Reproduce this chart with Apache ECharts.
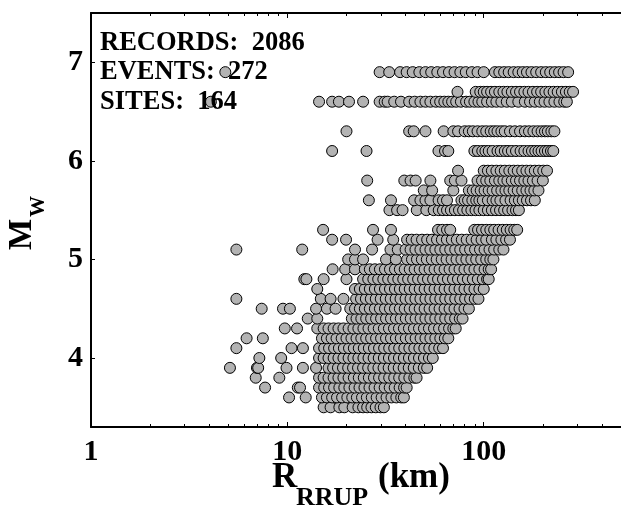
<!DOCTYPE html>
<html>
<head>
<meta charset="utf-8">
<script src="https://cdn.jsdelivr.net/npm/echarts@6/dist/echarts.min.js"></script>
<style>
  html, body { margin: 0; padding: 0; background: #fff; }
  #chart { width: 621px; height: 510px; }
</style>
</head>
<body>
<div id="chart"></div>
<script>
// Moment magnitude of each row of records
const magnitudes = [3.5, 3.6, 3.7, 3.8, 3.9, 4.0, 4.1, 4.2, 4.3, 4.4, 4.5, 4.6, 4.7, 4.8, 4.9,
                    5.0, 5.1, 5.2, 5.3, 5.5, 5.6, 5.7, 5.8, 5.9, 6.1, 6.3, 6.6, 6.7, 6.9];

// Rupture distances (km) of the records at each magnitude
const r35 = [15.3, 16.6, 18.4, 19.5, 21.5, 23.0, 24.3, 25.5, 26.8, 28.2, 29.8, 31.0];
const r36 = [10.2, 12.4, 15.0, 15.9, 16.9, 17.9, 19.0, 20.2, 21.4, 22.6, 24.0, 25.4, 26.9, 28.5, 30.2, 32.0, 33.9, 35.9, 38.0, 39.2];
const r37 = [7.7, 11.3, 11.6, 14.5, 15.4, 16.3, 17.3, 18.4, 19.5, 20.7, 22.0, 23.3, 24.7, 26.2, 27.8, 29.5, 31.3, 33.2, 35.2, 37.3, 39.3, 40.5];
const r38 = [6.9, 9.1, 14.5, 15.3, 16.2, 17.2, 18.2, 19.3, 20.5, 21.8, 23.1, 24.5, 26.0, 27.6, 29.3, 31.1, 33.0, 35.0, 37.1, 39.4, 41.8, 44.3, 45.5];
const r39 = [5.1, 7.0, 7.1, 9.9, 12.0, 14.0, 16.2, 17.1, 18.1, 19.2, 20.4, 21.6, 22.9, 24.3, 25.8, 27.4, 29.1, 30.9, 32.8, 34.8, 36.9, 39.1, 41.5, 44.0, 46.7, 49.5, 51.5];
const r40 = [7.2, 9.3, 14.5, 15.3, 16.2, 17.2, 18.2, 19.3, 20.5, 21.7, 23.0, 24.4, 25.9, 27.5, 29.2, 31.0, 32.9, 34.9, 37.0, 39.2, 41.6, 44.1, 46.8, 49.6, 52.6, 55.0];
const r41 = [5.5, 10.5, 12.0, 14.5, 15.4, 16.3, 17.3, 18.3, 19.4, 20.6, 21.8, 23.1, 24.5, 26.0, 27.6, 29.3, 31.1, 33.0, 35.0, 37.1, 39.4, 41.8, 44.3, 47.0, 49.8, 52.8, 56.0, 59.3, 62.0];
const r42 = [6.2, 7.5, 15.0, 15.9, 16.8, 17.8, 18.9, 20.0, 21.2, 22.5, 23.8, 25.2, 26.7, 28.3, 30.0, 31.8, 33.7, 35.7, 37.8, 40.1, 42.5, 45.0, 47.7, 50.5, 53.5, 56.7, 60.1, 63.4, 66.0];
const r43 = [9.7, 11.2, 14.2, 15.3, 16.2, 17.2, 18.2, 19.3, 20.5, 21.7, 23.0, 24.4, 25.9, 27.5, 29.2, 31.0, 32.9, 34.9, 37.0, 39.2, 41.6, 44.1, 46.8, 49.6, 52.6, 55.8, 59.2, 62.8, 66.6, 70.0, 72.0];
const r44 = [12.7, 14.2, 21.3, 22.5, 23.8, 25.2, 26.7, 28.3, 30.0, 31.8, 33.7, 35.7, 37.8, 40.1, 42.5, 45.0, 47.7, 50.5, 53.5, 56.7, 60.1, 63.7, 67.5, 71.5, 75.5, 78.0];
const r45 = [7.4, 9.5, 10.3, 14.0, 15.9, 17.6, 20.9, 22.1, 23.4, 24.8, 26.3, 27.9, 29.6, 31.4, 33.3, 35.3, 37.4, 39.6, 42.0, 44.5, 47.2, 50.0, 53.0, 56.2, 59.6, 63.2, 67.0, 71.0, 75.3, 79.8, 84.0];
const r46 = [5.5, 14.8, 16.6, 19.3, 22.4, 23.7, 25.1, 26.6, 28.2, 29.9, 31.7, 33.6, 35.6, 37.7, 40.0, 42.4, 44.9, 47.6, 50.5, 53.5, 56.7, 60.1, 63.7, 67.5, 71.6, 75.9, 80.4, 85.2, 90.0, 94.0];
const r47 = [14.2, 22.1, 23.4, 24.8, 26.3, 27.9, 29.6, 31.4, 33.3, 35.3, 37.4, 39.6, 42.0, 44.5, 47.2, 50.0, 53.0, 56.2, 59.6, 63.2, 67.0, 71.0, 75.3, 79.8, 84.6, 89.7, 95.0, 100];
const r48 = [12.2, 12.5, 15.3, 20.0, 24.3, 25.8, 27.4, 29.0, 30.8, 32.6, 34.6, 36.7, 38.9, 41.2, 43.7, 46.3, 49.1, 52.0, 55.2, 58.5, 62.0, 65.7, 69.7, 73.9, 78.3, 83.0, 88.0, 93.3, 98.9, 104, 106];
const r49 = [17.0, 19.7, 22.1, 24.8, 26.3, 27.9, 29.6, 31.4, 33.3, 35.3, 37.4, 39.6, 42.0, 44.5, 47.2, 50.0, 53.0, 56.2, 59.6, 63.2, 67.0, 71.0, 75.3, 79.8, 84.6, 89.7, 95.0, 101, 106, 109];
const r50 = [20.4, 22.1, 24.3, 31.8, 35.7, 40.7, 43.1, 45.7, 48.4, 51.3, 54.4, 57.6, 61.1, 64.7, 68.6, 72.7, 77.0, 81.6, 86.5, 91.6, 97.1, 103, 108, 112];
const r51 = [5.5, 11.9, 22.1, 27.0, 33.5, 36.5, 40.0, 42.4, 44.9, 47.6, 50.5, 53.5, 56.7, 60.1, 63.7, 67.5, 71.6, 75.9, 80.4, 85.2, 90.3, 95.7, 101, 107, 113, 120, 126];
const r52 = [16.9, 19.9, 28.8, 34.6, 40.7, 43.0, 45.5, 48.5, 51.5, 54.5, 57.8, 61.2, 64.9, 68.8, 72.9, 77.3, 81.9, 86.8, 92.0, 97.5, 103, 110, 116, 123, 130, 136];
const r53 = [15.2, 27.3, 33.7, 58.5, 61.5, 65.0, 67.5, 89.5, 93.5, 98.0, 103, 108, 113, 119, 125, 131, 137, 143, 148];
const r55 = [33.1, 36.2, 38.6, 45.6, 51.0, 55.6, 59.0, 62.0, 65.0, 68.0, 71.3, 74.8, 78.5, 82.5, 86.5, 90.8, 95.0, 100, 105, 110, 115.5, 121, 127, 133, 140, 146, 151];
const r56 = [26.0, 33.7, 44.2, 47.6, 50.5, 53.5, 58.9, 62.0, 65.0, 77.0, 80.0, 83.2, 87.5, 91.6, 95.0, 98.9, 105, 111, 116, 121.5, 129, 137, 144, 151, 158, 166, 174, 182];
const r57 = [49.5, 54.6, 70.0, 84.0, 88.0, 92.0, 96.5, 101, 106, 111, 117, 123, 129, 135, 142, 149, 157, 165, 173, 181, 190];
const r58 = [25.5, 39.4, 42.4, 45.0, 53.5, 67.5, 71.3, 77.0, 93.0, 98.0, 103, 108, 114, 120, 126, 132, 139, 146, 153, 161, 169, 178, 188, 200];
const r59 = [74.0, 100, 105, 110, 116, 122, 128, 135, 142, 149, 157, 165, 173, 182, 191, 201, 210];
const r61 = [16.9, 25.3, 58.8, 63.5, 66.0, 89.6, 93.3, 98.3, 102, 106, 111, 117.5, 122, 128, 133, 139, 146, 154, 161, 169, 176, 183, 190, 197, 205, 212, 220, 226];
const r63 = [20.0, 41.7, 44.0, 50.5, 62.5, 70.0, 74.0, 80.0, 84.0, 88.0, 93.0, 98.3, 103, 108.5, 113, 117.5, 123, 128, 136, 144, 153, 162, 170, 179, 188, 197, 205, 212, 221, 229];
const r66 = [4.08, 14.5, 16.9, 18.3, 20.6, 24.3, 29.5, 31.3, 32.4, 35.0, 37.9, 41.7, 44.5, 47.6, 50.5, 53.5, 57.0, 60.0, 63.0, 66.0, 69.0, 72.4, 76.5, 81.3, 85.0, 89.6, 94.0, 98.3, 104, 110, 116, 123, 131, 139, 150, 162, 172, 182, 193, 204, 216, 229, 243, 257, 265];
const r67 = [73.5, 91, 96, 100, 104, 109, 114, 120, 126, 132, 139, 146, 153, 161, 169, 178, 187, 196, 206, 216, 227, 238, 250, 262, 274, 285];
const r69 = [4.83, 29.5, 33.0, 37.5, 40.5, 43.5, 47.0, 50.5, 54.0, 58.0, 62.0, 66.5, 71.0, 76.0, 81.0, 87.0, 93.0, 100, 114, 120, 127, 134, 142, 150, 158, 166, 175, 185, 196, 207, 218, 230, 242, 255, 269];

const distanceRows = [r35, r36, r37, r38, r39, r40, r41, r42, r43, r44, r45, r46, r47, r48, r49,
                      r50, r51, r52, r53, r55, r56, r57, r58, r59, r61, r63, r66, r67, r69];

// Axis ticks
const xMajorTicks = [1, 10, 100];
const xMinorTicks = [2, 3, 4, 5, 6, 7, 8, 9, 20, 30, 40, 50, 60, 70, 80, 90, 200, 300, 400];
const yTicks = [4, 5, 6, 7];

// Dataset summary lines
const summaryLines = ['RECORDS:  2086', 'EVENTS:  272', 'SITES:  164'];

const points = [];
distanceRows.forEach((row, i) => {
  row.forEach(r => points.push([r, magnitudes[i]]));
});

const FONT = '"Liberation Serif", "Times New Roman", serif';
const lineStyle = { color: '#000', width: 2 };

function logAxis(position, ticks, len, withLine, withLabels) {
  return {
    type: 'log', logBase: 10, min: 1, max: 500, position: position,
    axisLine: { show: withLine, lineStyle: lineStyle },
    axisTick: { show: true, inside: true, length: len, customValues: ticks, lineStyle: { color: '#000', width: 1 } },
    axisLabel: withLabels ? {
      show: true, customValues: xMajorTicks, margin: 10,
      fontFamily: FONT, fontWeight: 'bold', fontSize: 30, color: '#000'
    } : { show: false },
    splitLine: { show: false }
  };
}

const chart = echarts.init(document.getElementById('chart'), null, { renderer: 'canvas' });
chart.setOption({
  animation: false,
  backgroundColor: '#fff',
  grid: { left: 91, top: 13, right: -10, bottom: 83, containLabel: false },
  xAxis: [
    logAxis('bottom', xMajorTicks, 5, true, true),
    logAxis('bottom', xMinorTicks, 3, false, false),
    logAxis('top', xMajorTicks, 5, true, false),
    logAxis('top', xMinorTicks, 3, false, false)
  ],
  yAxis: {
    type: 'value', min: 3.3, max: 7.5,
    axisLine: { show: true, lineStyle: lineStyle },
    axisTick: { show: true, inside: true, length: 4, customValues: yTicks, lineStyle: { color: '#000', width: 1 } },
    axisLabel: { customValues: yTicks, margin: 8, fontFamily: FONT, fontWeight: 'bold', fontSize: 30, color: '#000' },
    splitLine: { show: false }
  },
  series: [{
    type: 'scatter',
    xAxisIndex: 0,
    data: points,
    symbol: 'circle',
    symbolSize: 11,
    itemStyle: { color: '#b3b3b3', borderColor: '#000', borderWidth: 1, opacity: 1 },
    emphasis: { disabled: true }
  }],
  graphic: [
    ...summaryLines.map((t, i) => ({
      type: 'text', x: 100, y: 43 + i * 29.5, z: 100,
      style: { text: t, font: 'bold 26.5px ' + FONT, fill: '#000', align: 'left', verticalAlign: 'middle' }
    })),
    { type: 'text', x: 272, y: 478, z: 100,
      style: { text: 'R', font: 'bold 35px ' + FONT, fill: '#000', align: 'left', verticalAlign: 'middle' } },
    { type: 'text', x: 296, y: 498, z: 100,
      style: { text: 'RRUP', font: 'bold 26px ' + FONT, fill: '#000', align: 'left', verticalAlign: 'middle' } },
    { type: 'text', x: 378, y: 478, z: 100,
      style: { text: '(km)', font: 'bold 35px ' + FONT, fill: '#000', align: 'left', verticalAlign: 'middle' } },
    { type: 'text', x: 22.5, y: 250, rotation: Math.PI / 2, z: 100,
      style: { text: 'M', font: 'bold 33px ' + FONT, fill: '#000', align: 'left', verticalAlign: 'middle' } },
    { type: 'text', x: 38.5, y: 217, rotation: Math.PI / 2, z: 100,
      style: { text: 'W', font: 'bold 21px ' + FONT, fill: '#000', align: 'left', verticalAlign: 'middle' } }
  ]
});
</script>
</body>
</html>
